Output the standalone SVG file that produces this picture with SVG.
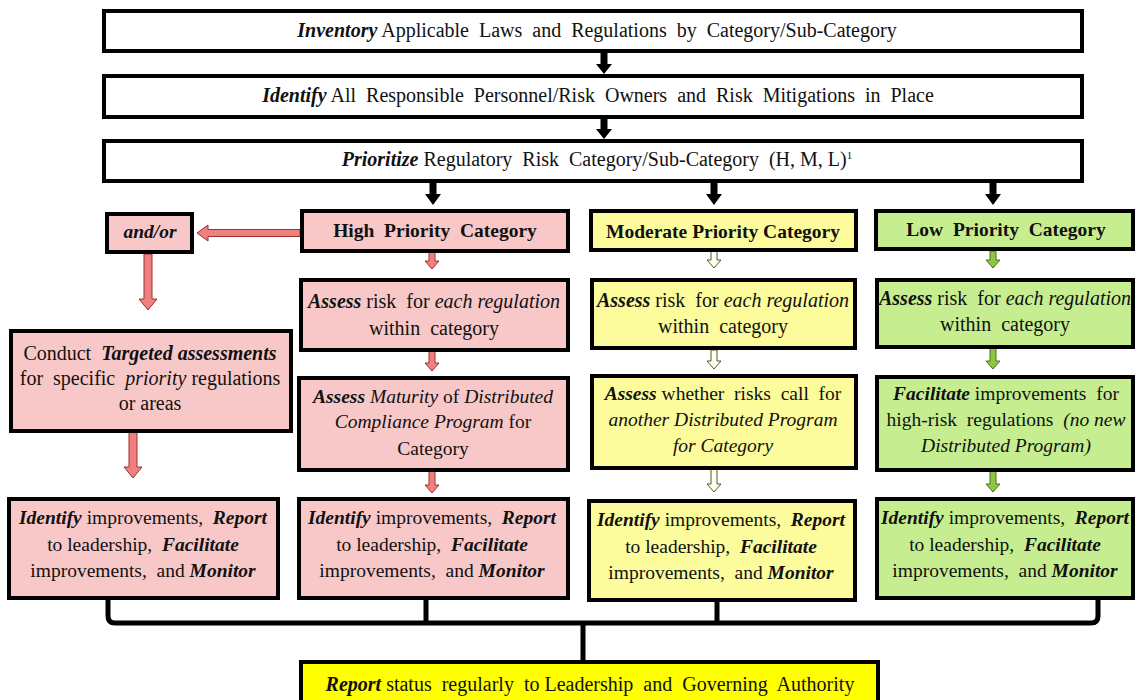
<svg xmlns="http://www.w3.org/2000/svg" width="1136" height="700" viewBox="0 0 1136 700" font-family="Liberation Serif, Times New Roman, serif">
<style>
.box{stroke:#000;stroke-width:4}
.w{fill:#fff}.p{fill:#F8C8C8}.y{fill:#FCFC9C}.g{fill:#C6EE90}.yy{fill:#FFFF00}
text{fill:#111;text-anchor:middle}
.s18{font-size:20px}.s19{font-size:19.5px}.s20{font-size:20px}
.b{font-weight:bold}.i{font-style:italic}.bi{font-weight:bold;font-style:italic}
.ak{fill:#000}
.ap{fill:#F08080;stroke:#9A3030;stroke-width:1}
.am{fill:#FFFFF2;stroke:#55552A;stroke-width:1}
.ag{fill:#8DC63F;stroke:#4A7020;stroke-width:1}
.br{fill:none;stroke:#000;stroke-width:5}
</style>
<rect width="1136" height="700" fill="#fff"/>
<g id="connectors">
<path class="ak" d="M600.5,52 H607.5 V64 H612 L604,74 L596,64 H600.5 Z"/>
<path class="ak" d="M600.5,117 H607.5 V129 H612 L604,139 L596,129 H600.5 Z"/>
<path class="ak" d="M429.5,181 H436.5 V194 H441 L433,205 L425,194 H429.5 Z"/>
<path class="ak" d="M710.5,181 H717.5 V194 H722 L714,205 L706,194 H710.5 Z"/>
<path class="ak" d="M989.5,181 H996.5 V194 H1001 L993,205 L985,194 H989.5 Z"/>
<path class="ap" d="M300,229.5 V236.5 H208 V241 L197,233 L208,225 V229.5 Z"/>
<path class="ap" d="M144,254 H152 V299 H157 L148,310 L139,299 H144 Z"/>
<path class="ap" d="M129,432 H137 V467 H142 L133,478 L124,467 H129 Z"/>
<path class="ap" d="M429,252 H435 V261 H439 L432,269 L425,261 H429 Z"/>
<path class="ap" d="M429,351 H435 V363 H439 L432,371 L425,363 H429 Z"/>
<path class="ap" d="M429,471 H435 V485 H439 L432,493 L425,485 H429 Z"/>
<path class="am" d="M711,251 H717 V260 H721 L714,268 L707,260 H711 Z"/>
<path class="am" d="M711,350 H717 V361 H721 L714,369 L707,361 H711 Z"/>
<path class="am" d="M711,469 H717 V484 H721 L714,492 L707,484 H711 Z"/>
<path class="ag" d="M990,251 H996 V260 H1000 L993,268 L986,260 H990 Z"/>
<path class="ag" d="M990,348 H996 V361 H1000 L993,369 L986,361 H990 Z"/>
<path class="ag" d="M990,471 H996 V484 H1000 L993,492 L986,484 H990 Z"/>
<path class="br" d="M108,598 V616 Q108,623 115,623 H1091 Q1098,623 1098,616 V598"/>
<path class="br" d="M426,598 V623 M717,600 V623 M583,623 V661"/>
</g>
<g id="inventory"><rect class="box w" x="104" y="11" width="978" height="40"/>
<text class="s18" x="597" y="37" xml:space="preserve"><tspan class="bi">Inventory</tspan> Applicable  Laws  and  Regulations  by  Category/Sub-Category</text></g>
<g id="identify"><rect class="box w" x="104" y="76" width="978" height="41"/>
<text class="s18" x="598" y="102" xml:space="preserve"><tspan class="bi">Identify</tspan> All  Responsible  Personnel/Risk  Owners  and  Risk  Mitigations  in  Place</text></g>
<g id="prioritize"><rect class="box w" x="104" y="141" width="978" height="40"/>
<text class="s18" x="597" y="166" xml:space="preserve"><tspan class="bi">Prioritize</tspan> Regulatory  Risk  Category/Sub-Category  (H, M, L)<tspan font-size="11" dy="-7">1</tspan></text></g>
<g id="andor"><rect class="box p" x="107" y="214" width="85" height="38"/>
<text class="s19 bi" x="150" y="238">and/or</text></g>
<g id="high"><rect class="box p" x="302" y="211" width="266" height="40"/>
<text class="s19 b" x="435" y="237" xml:space="preserve">High  Priority  Category</text></g>
<g id="moderate"><rect class="box y" x="591" y="211" width="265" height="39"/>
<text class="s19 b" x="723" y="238">Moderate Priority Category</text></g>
<g id="low"><rect class="box g" x="876" y="211" width="257" height="38"/>
<text class="s19 b" x="1006" y="236" xml:space="preserve">Low  Priority  Category</text></g>
<g id="high-assess"><rect class="box p" x="301" y="280" width="267" height="70"/>
<text class="s20" x="434" y="308" xml:space="preserve"><tspan class="bi">Assess</tspan> risk  for <tspan class="i">each regulation</tspan></text>
<text class="s20" x="434" y="335" xml:space="preserve">within  category</text></g>
<g id="mod-assess"><rect class="box y" x="592" y="280" width="263" height="68"/>
<text class="s20" x="723" y="307" xml:space="preserve"><tspan class="bi">Assess</tspan> risk  for <tspan class="i">each regulation</tspan></text>
<text class="s20" x="723" y="333" xml:space="preserve">within  category</text></g>
<g id="low-assess"><rect class="box g" x="877" y="280" width="256" height="67"/>
<text class="s20" x="1005" y="305" xml:space="preserve"><tspan class="bi">Assess</tspan> risk  for <tspan class="i">each regulation</tspan></text>
<text class="s20" x="1005" y="331" xml:space="preserve">within  category</text></g>
<g id="targeted"><rect class="box p" x="11" y="331" width="280" height="100"/>
<text class="s20" x="150" y="360" xml:space="preserve">Conduct  <tspan class="bi">Targeted assessments</tspan></text>
<text class="s20" x="150" y="385" xml:space="preserve">for  specific  <tspan class="i">priority</tspan> regulations</text>
<text class="s20" x="150" y="410">or areas</text></g>
<g id="high-maturity"><rect class="box p" x="299" y="378" width="269" height="92"/>
<text class="s19" x="433" y="403" xml:space="preserve"><tspan class="bi">Assess</tspan> <tspan class="i">Maturity</tspan> of <tspan class="i">Distributed</tspan></text>
<text class="s19" x="433" y="428" xml:space="preserve"><tspan class="i">Compliance Program</tspan> for</text>
<text class="s19" x="433" y="455">Category</text></g>
<g id="mod-whether"><rect class="box y" x="592" y="376" width="264" height="92"/>
<text class="s19" x="723" y="400" xml:space="preserve"><tspan class="bi">Assess</tspan> whether  risks  call  for</text>
<text class="s19 i" x="723" y="426">another Distributed Program</text>
<text class="s19 i" x="723" y="452">for Category</text></g>
<g id="low-facilitate"><rect class="box g" x="877" y="377" width="256" height="93"/>
<text class="s19" x="1006" y="400" xml:space="preserve"><tspan class="bi">Facilitate</tspan> improvements  for</text>
<text class="s19" x="1006" y="426" xml:space="preserve">high-risk  regulations  <tspan class="i">(no new</tspan></text>
<text class="s19 i" x="1006" y="452">Distributed Program)</text></g>
<g id="left-identify"><rect class="box p" x="9" y="499" width="269" height="99"/>
<text class="s19" x="143" y="524" xml:space="preserve"><tspan class="bi">Identify</tspan> improvements,  <tspan class="bi">Report</tspan></text>
<text class="s19" x="143" y="551" xml:space="preserve">to leadership,  <tspan class="bi">Facilitate</tspan></text>
<text class="s19" x="143" y="577" xml:space="preserve">improvements,  and <tspan class="bi">Monitor</tspan></text></g>
<g id="high-identify"><rect class="box p" x="299" y="499" width="269" height="99"/>
<text class="s19" x="432" y="524" xml:space="preserve"><tspan class="bi">Identify</tspan> improvements,  <tspan class="bi">Report</tspan></text>
<text class="s19" x="432" y="551" xml:space="preserve">to leadership,  <tspan class="bi">Facilitate</tspan></text>
<text class="s19" x="432" y="577" xml:space="preserve">improvements,  and <tspan class="bi">Monitor</tspan></text></g>
<g id="mod-identify"><rect class="box y" x="589" y="501" width="266" height="99"/>
<text class="s19" x="721" y="526" xml:space="preserve"><tspan class="bi">Identify</tspan> improvements,  <tspan class="bi">Report</tspan></text>
<text class="s19" x="721" y="553" xml:space="preserve">to leadership,  <tspan class="bi">Facilitate</tspan></text>
<text class="s19" x="721" y="579" xml:space="preserve">improvements,  and <tspan class="bi">Monitor</tspan></text></g>
<g id="low-identify"><rect class="box g" x="877" y="499" width="256" height="99"/>
<text class="s19" x="1005" y="524" xml:space="preserve"><tspan class="bi">Identify</tspan> improvements,  <tspan class="bi">Report</tspan></text>
<text class="s19" x="1005" y="551" xml:space="preserve">to leadership,  <tspan class="bi">Facilitate</tspan></text>
<text class="s19" x="1005" y="577" xml:space="preserve">improvements,  and <tspan class="bi">Monitor</tspan></text></g>
<g id="report"><rect class="box yy" x="301" y="662" width="577" height="44"/>
<text class="s18" x="590" y="691" xml:space="preserve"><tspan class="bi">Report</tspan> status  regularly  to Leadership  and  Governing  Authority</text></g>
</svg>
